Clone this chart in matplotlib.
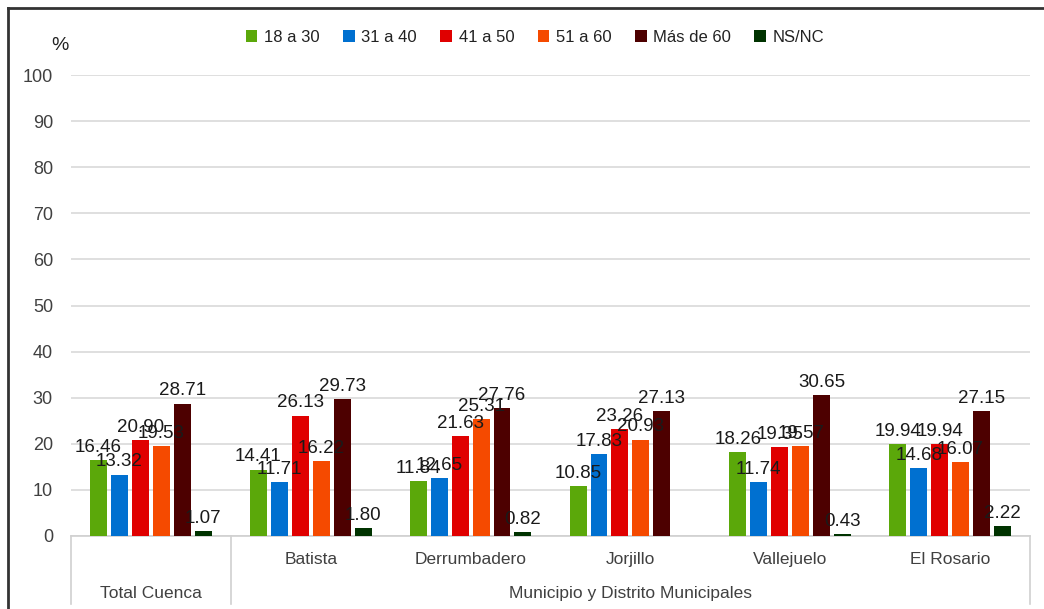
import matplotlib.pyplot as plt
import numpy as np

plt.rcParams['font.family'] = ['Liberation Sans', 'DejaVu Sans']

grupos = ['Total Cuenca', 'Batista', 'Derrumbadero', 'Jorjillo', 'Vallejuelo', 'El Rosario']
series = ['18 a 30', '31 a 40', '41 a 50', '51 a 60', 'Más de 60', 'NS/NC']
colores = ['#5BA80A', '#0070D0', '#E00000', '#F54A00', '#4D0000', '#003300']

v18_30 = [16.46, 14.41, 11.84, 10.85, 18.26, 19.94]
v31_40 = [13.32, 11.71, 12.65, 17.83, 11.74, 14.68]
v41_50 = [20.90, 26.13, 21.63, 23.26, 19.35, 19.94]
v51_60 = [19.53, 16.22, 25.31, 20.93, 19.57, 16.07]
v60mas = [28.71, 29.73, 27.76, 27.13, 30.65, 27.15]
nsnc = [1.07, 1.80, 0.82, None, 0.43, 2.22]
valores = [v18_30, v31_40, v41_50, v51_60, v60mas, nsnc]

W, H = 1044, 609
fig = plt.figure(figsize=(W/100, H/100), dpi=100)
ax = fig.add_axes([71/W, 1-536/H, (1030-71)/W, (536-75)/H])

x = np.arange(len(grupos))
paso = 0.131
ancho = 0.106
for i in range(len(series)):
    pos = x + (i - 2.5)*paso
    alt = [v if v is not None else 0 for v in valores[i]]
    ax.bar(pos, alt, width=ancho, color=colores[i], label=series[i], zorder=3)
    for p, v in zip(pos, valores[i]):
        if v is None:
            continue
        ax.text(p, v + 0.9, '%.2f' % v, ha='center', va='bottom', fontsize=13.5, color='#1a1a1a', zorder=4)

ax.set_xlim(-0.5, len(grupos) - 0.5)
ax.set_ylim(0, 100)
ax.set_yticks(range(0, 101, 10))
ax.yaxis.grid(True, color='#d9d9d9', linewidth=1.2, zorder=0)
ax.set_axisbelow(True)
for s in ['top', 'right', 'left']:
    ax.spines[s].set_visible(False)
ax.spines['bottom'].set_color('#d0d0d0')
ax.spines['bottom'].set_linewidth(1.2)
ax.tick_params(axis='y', length=0, labelsize=13, labelcolor='#404040', pad=13)
ax.set_xticks([])

# etiquetas de dos niveles del eje x
trans = ax.get_xaxis_transform()
for i, g in enumerate(grupos):
    yy = -0.125 if i == 0 else -0.05
    ax.text(x[i], yy, g, transform=trans, ha='center', va='center', fontsize=12.5, color='#404040')
ax.text(3.0, -0.125, 'Municipio y Distrito Municipales', transform=trans, ha='center', va='center',
        fontsize=12.5, color='#404040')
for xs in [-0.5, 0.5, 5.5]:
    ax.plot([xs, xs], [0, -0.148], transform=trans, color='#d0d0d0', linewidth=1.2, clip_on=False)

fig.text(60/W, 1-46/H, '%', ha='center', va='center', fontsize=14, color='#222222')

leg = fig.legend(*ax.get_legend_handles_labels(), loc='center', bbox_to_anchor=(535/W, 1-37/H), ncol=6,
                 frameon=False, fontsize=12, handlelength=0.7, handleheight=0.7, handletextpad=0.4,
                 columnspacing=1.4)
for t in leg.get_texts():
    t.set_color('#222222')

# marco exterior
fig.add_artist(plt.Line2D([8/W, 8/W], [0, 1-8/H], transform=fig.transFigure, color='#333333', linewidth=2))
fig.add_artist(plt.Line2D([8/W, 1], [1-8/H, 1-8/H], transform=fig.transFigure, color='#333333', linewidth=2))

fig.savefig('out.png', dpi=100)
